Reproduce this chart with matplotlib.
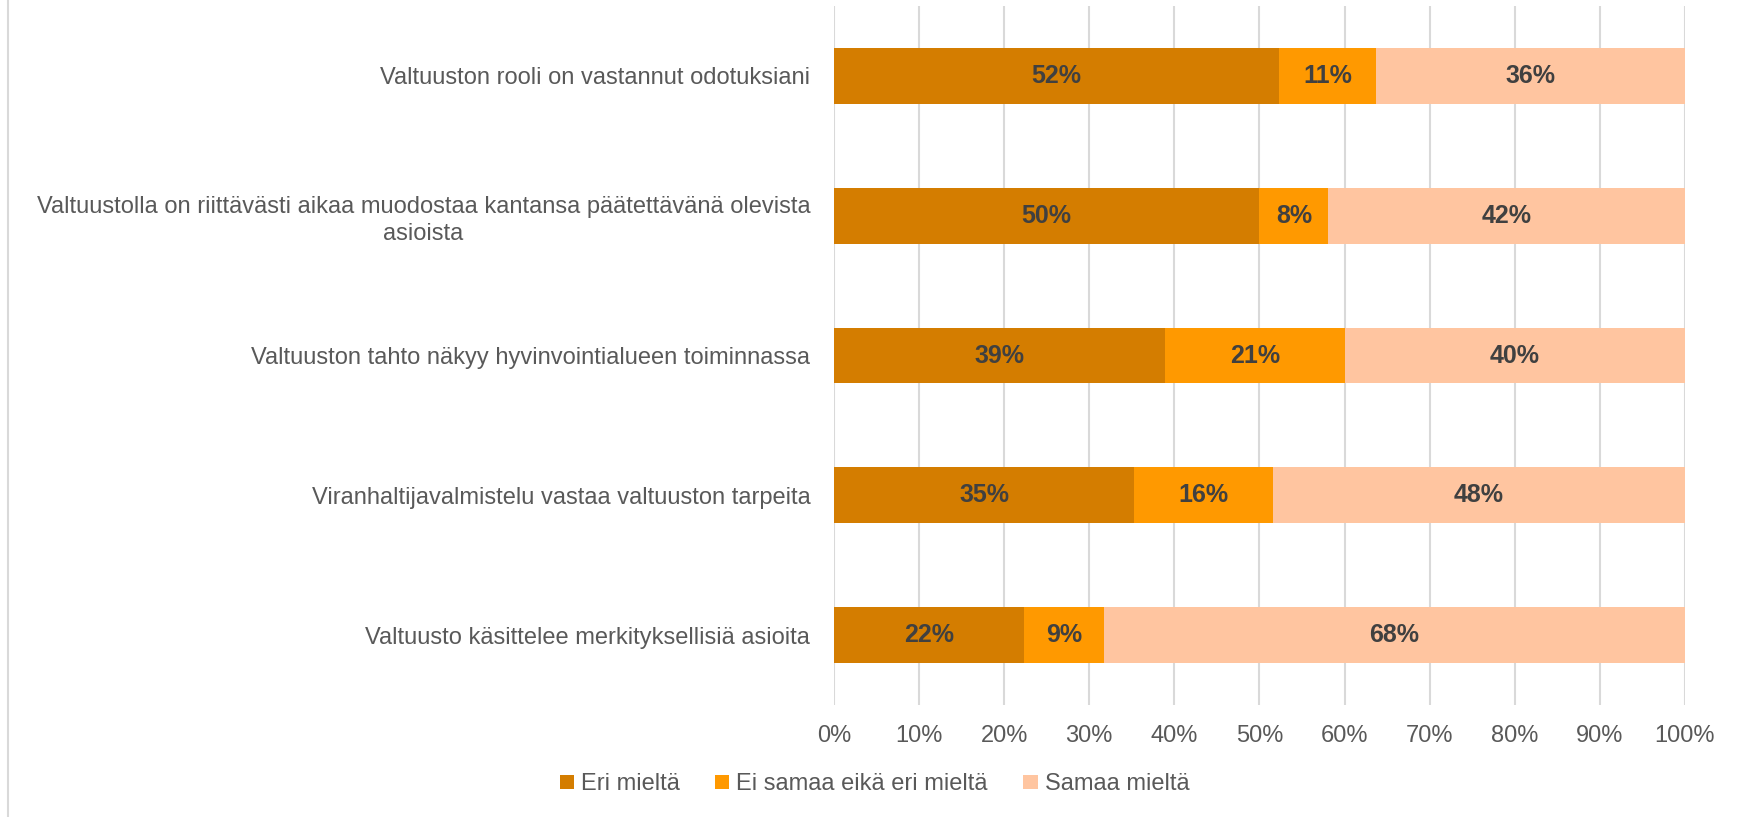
import matplotlib.pyplot as plt
import numpy as np

# Survey statements (top to bottom)
statements = [
    "Valtuuston rooli on vastannut odotuksiani",
    "Valtuustolla on riittävästi aikaa muodostaa kantansa päätettävänä olevista\nasioista",
    "Valtuuston tahto näkyy hyvinvointialueen toiminnassa",
    "Viranhaltijavalmistelu vastaa valtuuston tarpeita",
    "Valtuusto käsittelee merkityksellisiä asioita",
]
series_names = ["Eri mieltä", "Ei samaa eikä eri mieltä", "Samaa mieltä"]

# shares in percent
eri = [52.3, 50.0, 38.9, 35.3, 22.3]
neutral = [11.4, 8.1, 21.1, 16.3, 9.4]
samaa = [36.3, 41.9, 40.0, 48.4, 68.3]

colors = ["#D47D00", "#FF9900", "#FFC5A0"]
text_gray = "#595959"
label_gray = "#404040"

plt.rcParams['font.family'] = ['Liberation Sans', 'DejaVu Sans']

fig = plt.figure(figsize=(17.49, 8.17), dpi=100)
ax = fig.add_axes([0.4768, 0.137, 0.4866, 0.8557])

y = np.arange(len(statements))
left = np.zeros(len(statements))
for vals, name, col in zip([eri, neutral, samaa], series_names, colors):
    vals = np.array(vals)
    bars = ax.barh(y, vals, left=left, height=0.4, color=col, label=name, zorder=3)
    for b, v in zip(bars, vals):
        ax.text(b.get_x() + b.get_width() / 2, b.get_y() + b.get_height() / 2,
                f"{round(v)}%", ha='center', va='center', fontsize=18,
                fontweight='bold', color=label_gray, zorder=4)
    left += vals

ax.set_xlim(0, 100)
ax.set_ylim(len(statements) - 0.5, -0.5)
ax.set_xticks(np.arange(0, 101, 10))
ax.set_xticklabels([f"{t}%" for t in range(0, 101, 10)])
ax.set_yticks(y)
ax.set_yticklabels(statements, multialignment='center', linespacing=1.3)
ax.tick_params(axis='both', length=0, labelsize=17, labelcolor=text_gray)
ax.tick_params(axis='x', pad=14)
ax.tick_params(axis='y', pad=17)
ax.grid(axis='x', color='#D9D9D9', linewidth=1.5, zorder=0)
for s in ax.spines.values():
    s.set_visible(False)

fig.legend(loc='center', bbox_to_anchor=(0.5, 0.04), ncol=3, frameon=False,
           fontsize=17, labelcolor=text_gray, handlelength=0.6, handleheight=0.6,
           handletextpad=0.3, columnspacing=1.5)

# chart frame edge on the left
fig.add_artist(plt.Line2D([8 / 1749, 8 / 1749], [0, 1], color='#D9D9D9', linewidth=1.5))

fig.savefig("out.png", dpi=100)
